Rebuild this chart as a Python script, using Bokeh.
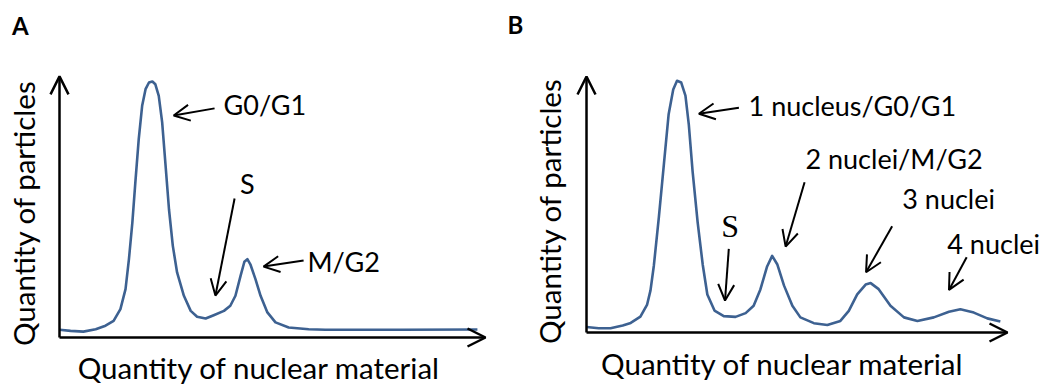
from bokeh.plotting import figure
from bokeh.layouts import row
from bokeh.models import Range1d, Arrow, OpenHead, Label
from bokeh.embed import file_html
from bokeh.resources import INLINE
import math

# ---------------- data ----------------
# Panel A: relative nuclear material (0-100) vs relative particle count (peak = 100)
a_x = [0, 2.6, 5.6, 8.5, 10.8, 12.7, 14.3, 15.5, 16.3, 17.1, 17.8, 18.6, 19.4, 20.2,
       21.0, 21.8, 22.5, 23.3, 24.1, 24.9, 25.7, 26.6, 27.6, 29.2, 30.8, 32.3, 34.3,
       36.2, 38.6, 40.1, 41.3, 42.5, 43.4, 44.1, 44.8, 46.0, 47.2, 48.8, 50.7, 53.8,
       58.5, 62.4, 80.0, 98.1]
a_y = [3.0, 2.6, 2.3, 3.2, 4.6, 6.5, 11.1, 18.9, 30.6, 44.9, 60.5, 77.5, 90.5, 97.0,
       99.6, 100.0, 98.9, 94.4, 84.0, 67.1, 50.1, 35.8, 25.4, 16.3, 10.4, 8.1, 7.4,
       8.7, 10.4, 12.4, 16.3, 24.1, 29.6, 30.6, 28.6, 22.8, 16.3, 9.8, 5.9, 3.9,
       3.2, 3.0, 3.0, 3.1]

# Panel B
b_x = [0, 2.9, 5.7, 8.6, 10.5, 12.8, 14.4, 15.2, 16.0, 17.2, 18.4, 19.5, 20.6, 21.5,
       22.5, 23.5, 24.3, 25.2, 26.4, 27.6, 28.7, 30.4, 32.6, 35.4, 37.8, 39.7, 41.3,
       42.9, 44.1, 45.3, 46.9, 48.9, 50.8, 54.0, 57.2, 60.3, 62.3, 64.3, 66.3, 67.5,
       69.4, 72.2, 75.4, 78.6, 82.5, 86.1, 88.8, 92.0, 95.2, 98.3]
b_y = [2.2, 1.7, 1.7, 2.8, 3.8, 6.3, 11.1, 16.7, 26.6, 46.0, 67.1, 86.5, 96.4, 99.9,
       99.2, 94.0, 82.5, 63.9, 43.7, 27.0, 15.1, 8.7, 6.5, 6.2, 7.7, 10.6, 17.1,
       26.2, 30.4, 27.1, 18.7, 10.6, 6.0, 3.7, 3.0, 4.6, 8.6, 15.1, 19.0, 19.6,
       17.2, 10.6, 6.0, 4.6, 6.0, 8.2, 9.2, 7.9, 5.6, 4.4]

panel_titles = ["A", "B"]
x_axis_title = "Quantity of nuclear material"
y_axis_title = "Quantity of particles"
a_labels = ["G0/G1", "S", "M/G2"]
b_labels = ["1 nucleus/G0/G1", "S", "2 nuclei/M/G2", "3 nuclei", "4 nuclei"]

# ---------------- style ----------------
CURVE = "#3d6191"
FONT = "Lato"
FS = "27px"
AXFS = "29.5px"
H = 386


def make_panel(width, xr, yr):
    p = figure(width=width, height=H, x_range=Range1d(*xr), y_range=Range1d(*yr),
               x_axis_type=None, y_axis_type=None, toolbar_location=None,
               output_backend="svg", min_border=0, outline_line_color=None,
               background_fill_color=None, border_fill_color=None)
    p.xgrid.visible = False
    p.ygrid.visible = False
    return p


def axes(p, ytop):
    p.add_layout(Arrow(end=OpenHead(size=18, line_width=2.5, line_color="black"),
                       x_start=0, y_start=0, x_end=100, y_end=0,
                       line_width=2.5, line_color="black"))
    p.add_layout(Arrow(end=OpenHead(size=18, line_width=2.5, line_color="black"),
                       x_start=0, y_start=0, x_end=0, y_end=ytop,
                       line_width=2.5, line_color="black"))


def pointer(p, x0, y0, x1, y1):
    p.add_layout(Arrow(end=OpenHead(size=16, line_width=2, line_color="black"),
                       x_start=x0, y_start=y0, x_end=x1, y_end=y1,
                       line_width=2, line_color="black"))


def label(p, x, y, text, align="left", font=FONT, size=FS, angle=0, bold=False):
    p.add_layout(Label(x=x, y=y, text=text, text_align=align, text_baseline="middle",
                       text_font=font, text_font_size=size, angle=angle,
                       text_font_style="bold" if bold else "normal", text_color="black"))


# ---------------- panel A ----------------
pa = make_panel(500, (-13.85, 103.52), (-19.14, 131.64))
axes(pa, 102)
pa.line(a_x, a_y, line_color=CURVE, line_width=2.6, line_join="round")
label(pa, 38.5, 91.0, a_labels[0])
pointer(pa, 36.4, 89.5, 26.8, 86.7)
label(pa, 44.1, 60.2, a_labels[1], align="center", size="27px")
pointer(pa, 41.1, 54.3, 36.6, 16.4)
label(pa, 58.2, 29.7, a_labels[2])
pointer(pa, 57.3, 30.1, 47.9, 27.7)
label(pa, 46.9, -11.7, x_axis_title, align="center", size=AXFS)
label(pa, -8.5, 48.6, y_axis_title, align="center", angle=math.pi / 2, size=AXFS)
label(pa, -9.2, 121.9, panel_titles[0], align="center", size="24px", bold=True)

# ---------------- panel B ----------------
pb = make_panel(547, (-20.43, 109.50), (-21.43, 131.75))
axes(pb, 101.6)
pb.line(b_x, b_y, line_color=CURVE, line_width=2.6, line_join="round")
label(pb, 38.5, 90.1, b_labels[0])
pointer(pb, 36.2, 89.2, 26.7, 86.8)
label(pb, 34.1, 42.3, b_labels[1], align="center", font="Liberation Serif", size="32px")
pointer(pb, 33.8, 33.2, 32.9, 12.7)
label(pb, 52.0, 68.9, b_labels[2])
pointer(pb, 51.8, 59.6, 47.3, 34.1)
label(pb, 75.0, 53.3, b_labels[3])
pointer(pb, 72.6, 42.2, 66.4, 23.9)
label(pb, 85.7, 35.3, b_labels[4])
pointer(pb, 90.3, 29.9, 86.1, 16.9)
label(pb, 46.6, -12.3, x_axis_title, align="center", size=AXFS)
label(pb, -8.8, 48.2, y_axis_title, align="center", angle=math.pi / 2, size=AXFS)
label(pb, -16.9, 122.2, panel_titles[1], align="center", size="24px", bold=True)

layout = row(pa, pb, spacing=0)
open("out.html", "w").write(file_html(layout, INLINE))
